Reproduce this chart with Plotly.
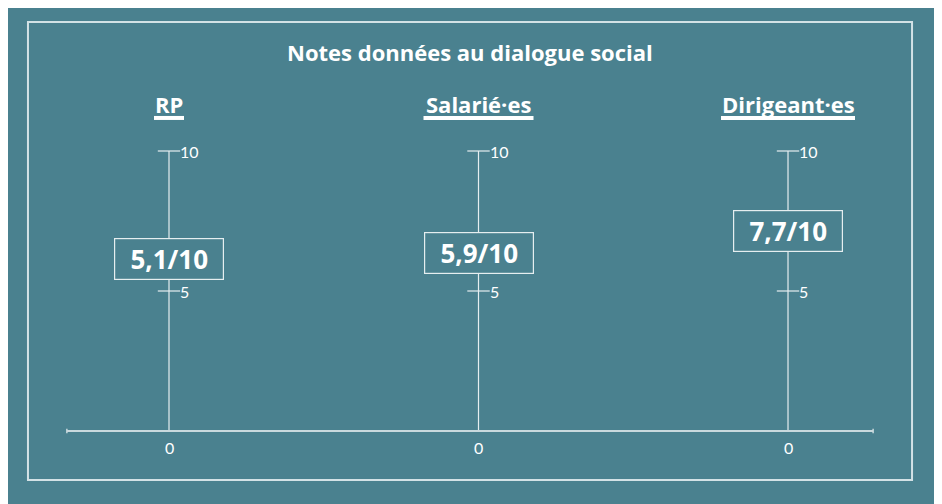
import plotly.graph_objects as go

# data
groups = ["RP", "Salarié·es", "Dirigeant·es"]
scores = [5.1, 5.9, 7.7]
score_labels = ["5,1/10", "5,9/10", "7,7/10"]
tick_values = [0, 5, 10]
tick_labels = ["0", "5", "10"]

BG = "#4a818f"
LINE = "#e6eef0"
FONT = "Open Sans"

# layout helpers (label placement, in axis units / pixels)
box_y = [6.14, 6.36, 7.13]
underline_half = [15, 55, 67]

fig = go.Figure()

for i, g in enumerate(groups):
    # vertical scale
    fig.add_trace(go.Scatter(
        x=[i, i], y=[tick_values[0], tick_values[-1]], mode="lines",
        line=dict(color=LINE, width=1.2), hoverinfo="skip", showlegend=False,
    ))
    # tick marks at 5 and 10
    fig.add_trace(go.Scatter(
        x=[i] * (len(tick_values) - 1), y=tick_values[1:], mode="markers",
        marker=dict(symbol="line-ew-open", size=16, color=LINE, line=dict(color=LINE, width=1.2)),
        hoverinfo="skip", showlegend=False,
    ))
    for v, lab in zip(tick_values[1:], tick_labels[1:]):
        fig.add_annotation(x=i, y=v, text=lab, showarrow=False, xanchor="left",
                           xshift=9, font=dict(family="Lato", size=16, color="white"))
    fig.add_annotation(x=i, y=tick_values[0], text=tick_labels[0], showarrow=False,
                       yshift=-16, font=dict(family="Lato", size=16, color="white"))

    # header with thick underline
    fig.add_annotation(x=i, y=11.68, text="<b>%s</b>" % g, showarrow=False,
                       font=dict(family=FONT, size=22, color="white"))
    fig.add_shape(type="line", xref="x", yref="y", xsizemode="pixel", xanchor=i,
                  x0=-underline_half[i], x1=underline_half[i], y0=11.18, y1=11.18,
                  line=dict(color="white", width=4))

    # score box
    fig.add_annotation(x=i, y=box_y[i], text="<b>%s</b>" % score_labels[i],
                       showarrow=False, width=102, height=34, borderpad=3,
                       bordercolor=LINE, borderwidth=1.2, bgcolor=BG,
                       font=dict(family=FONT, size=26, color="white"))

# baseline with end ticks
fig.add_shape(type="line", x0=-0.33, x1=2.275, y0=0, y1=0,
              line=dict(color="#c9d9dd", width=2))
for xe in [-0.33, 2.275]:
    fig.add_shape(type="line", x0=xe, x1=xe, y0=-0.08, y1=0.08,
                  line=dict(color="#c9d9dd", width=1.5))

# outer frame
fig.add_shape(type="rect", xref="paper", yref="paper", x0=0.0212, x1=0.9597,
              y0=0.0635, y1=0.9722, line=dict(color="#d3e2e6", width=2))

fig.add_annotation(xref="paper", yref="paper", x=0.49, y=0.9127, yanchor="middle",
                   text="<b>Notes données au dialogue social</b>", showarrow=False,
                   font=dict(family=FONT, size=22, color="white"))

fig.update_layout(
    width=942, height=504,
    margin=dict(l=0, r=0, t=0, b=0),
    paper_bgcolor=BG, plot_bgcolor=BG,
    xaxis=dict(range=[-0.5202, 2.5234], visible=False, fixedrange=True),
    yaxis=dict(range=[-2.893, 15.107], visible=False, fixedrange=True),
    showlegend=False,
)

fig.write_html("out.html")
